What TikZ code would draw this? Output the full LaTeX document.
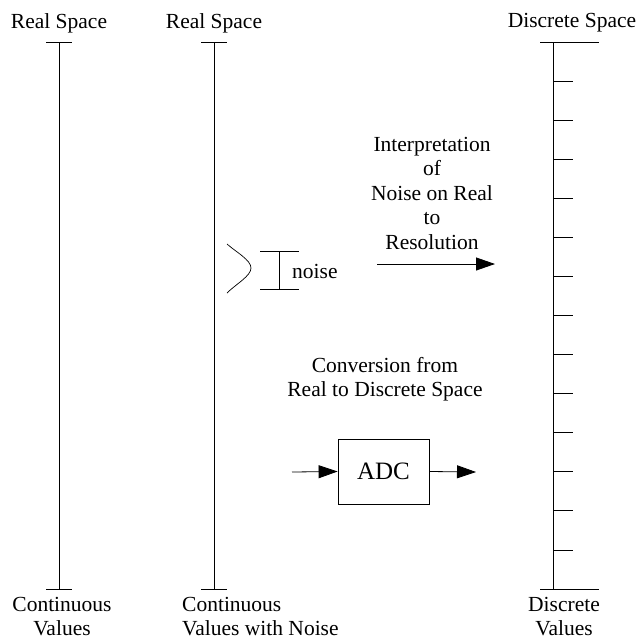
\documentclass[tikz,border=0pt]{standalone}
\usepackage{fontspec}
\setmainfont{Liberation Serif}
\usetikzlibrary{arrows.meta}
\begin{document}
\begin{tikzpicture}[x=1pt,y=-1pt,
  axis/.style={line width=0.8pt},
  lbl/.style={font=\fontsize{21.5}{24.5}\selectfont,inner sep=0pt,align=center},
  flow/.style={line width=0.8pt,-{Triangle[length=19pt,width=13pt]}}]
\useasboundingbox (0,0) rectangle (636,641);

% continuous axis
\coordinate (a1t) at (59,42);
\coordinate (a1b) at (59,589);
\draw[axis] (a1t) -- (a1b);
\draw[axis] (46,42) -- (72,42);
\draw[axis] (46,589) -- (72,589);
\node[lbl] (a1top) at (59,23) {Real Space};
\node[lbl,anchor=north] (a1bot) at (62,597) {Continuous\\Values};

% continuous axis with noise
\coordinate (a2t) at (214,42);
\coordinate (a2b) at (214,589);
\draw[axis] (a2t) -- (a2b);
\draw[axis] (201,42) -- (227,42);
\draw[axis] (201,589) -- (227,589);
\node[lbl] (a2top) at (214,23) {Real Space};
\node[lbl,anchor=north west,align=left] (a2bot) at (182,597) {Continuous\\Values with Noise};

% noise bump and noise bar
\draw[line width=0.7pt] (227,244) .. controls (236,252) and (251,260) .. (251,268)
  .. controls (251,276) and (236,284) .. (227,293);
\draw[axis] (260,251) -- (299,251);
\draw[axis] (260,289) -- (299,289);
\draw[axis] (279,251) -- (279,289);
\node[lbl,anchor=west] (noise) at (292,271) {noise};

% discrete axis with resolution ticks
\coordinate (a3t) at (553,42);
\coordinate (a3b) at (553,589);
\draw[axis] (a3t) -- (a3b);
\draw[axis] (540,42) -- (599,42);
\draw[axis] (540,589) -- (599,589);
\foreach \k in {0,...,12}
  \draw[axis] (553,{81+39.08*\k}) -- (573,{81+39.08*\k});
\node[lbl] (a3top) at (572,23) {Discrete Space};
\node[lbl,anchor=north] (a3bot) at (564,597) {Discrete\\Values};

% interpretation of noise
\node[lbl,anchor=north] (interp) at (432,137) {Interpretation\\of\\Noise on Real\\to\\Resolution};
\coordinate (ia) at (377,264);
\coordinate (ib) at (495,264);
\draw[flow] (ia) -- (ib);

% conversion
\node[lbl,anchor=north] (conv) at (385,357) {Conversion from\\Real to Discrete Space};
\node[draw,line width=0.8pt,minimum width=91pt,minimum height=65pt,inner sep=0pt,
  font=\fontsize{25}{29}\selectfont] (adc) at (383.5,471.5) {ADC};
\coordinate (cin) at (292,472);
\coordinate (cout) at (476,472);
\draw[flow] (cin) -- (adc.west);
\draw[flow] (adc.east) -- (cout);
\end{tikzpicture}
\end{document}
